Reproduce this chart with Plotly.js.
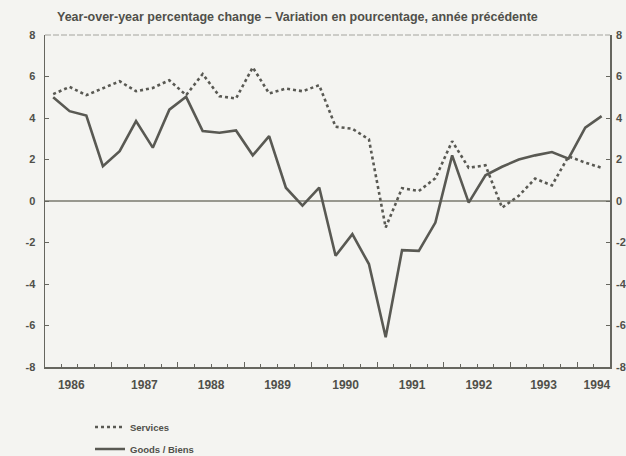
<!DOCTYPE html>
<html>
<head>
<meta charset="utf-8">
<script src="https://cdn.plot.ly/plotly-3.0.1.min.js"></script>
<style>
html,body{margin:0;padding:0;background:#f4f4f1;}
#chart{width:626px;height:456px;}
</style>
</head>
<body>
<div id="chart"></div>
<script>
// Quarterly observations, 1986 Q1 – 1994 Q2
const quarters = [
  "1986 Q1","1986 Q2","1986 Q3","1986 Q4",
  "1987 Q1","1987 Q2","1987 Q3","1987 Q4",
  "1988 Q1","1988 Q2","1988 Q3","1988 Q4",
  "1989 Q1","1989 Q2","1989 Q3","1989 Q4",
  "1990 Q1","1990 Q2","1990 Q3","1990 Q4",
  "1991 Q1","1991 Q2","1991 Q3","1991 Q4",
  "1992 Q1","1992 Q2","1992 Q3","1992 Q4",
  "1993 Q1","1993 Q2","1993 Q3","1993 Q4",
  "1994 Q1","1994 Q2"
];
const services = [
  5.15, 5.5, 5.1, 5.45, 5.77, 5.29, 5.45, 5.82, 5.1, 6.12,
  5.05, 4.94, 6.44, 5.18, 5.42, 5.29, 5.58, 3.58, 3.48, 2.97,
  -1.28, 0.62, 0.48, 1.1, 2.88, 1.6, 1.72, -0.32, 0.25, 1.08,
  0.75, 2.15, 1.85, 1.6
];
const goods = [
  5.0, 4.33, 4.12, 1.68, 2.4, 3.85, 2.57, 4.4, 5.02, 3.37,
  3.29, 3.4, 2.2, 3.13, 0.64, -0.22, 0.65, -2.64, -1.6, -3.04,
  -6.57, -2.37, -2.4, -1.04, 2.2, -0.08, 1.24, 1.65, 2.0, 2.2,
  2.36, 2.04, 3.53, 4.09
];
const yearLabels = ["1986","1987","1988","1989","1990","1991","1992","1993","1994"];
const yTickValues = [-8, -6, -4, -2, 0, 2, 4, 6, 8];
const yTickLabels = ["-8", "-6", "-4", "-2", "0", "2", "4", "6", "8"];
const seriesNames = ["Services", "Goods / Biens"];
const titleText = "Year-over-year percentage change \u2013 Variation en pourcentage, ann\u00e9e pr\u00e9c\u00e9dente";

// quarter label -> mid-quarter date
const midMonth = {Q1: "02-15", Q2: "05-16", Q3: "08-16", Q4: "11-15"};
const xDates = quarters.map(q => { const p = q.split(" "); return p[0] + "-" + midMonth[p[1]]; });

const ink = "#50504a";
const lineCol = "#595953";
const axisCol = "#66665f";
const bg = "#f4f4f1";
const xRange = ["1986-01-01", "1994-07-01"];
const fontFam = '"Liberation Sans", Arial, Helvetica, sans-serif';

const traces = [
  {
    type: "scatter", mode: "lines", name: seriesNames[0],
    x: xDates, y: services, xaxis: "x2", yaxis: "y2",
    line: {color: lineCol, width: 2.6, dash: "3px,3px"},
    legend: "legend", hoverinfo: "skip"
  },
  {
    type: "scatter", mode: "lines", name: seriesNames[1],
    x: xDates, y: goods, xaxis: "x", yaxis: "y",
    line: {color: lineCol, width: 2.6},
    legend: "legend2", hoverinfo: "skip"
  }
];

const yCommon = {
  range: [-8, 8], fixedrange: true, automargin: false,
  tickmode: "array", tickvals: yTickValues, ticktext: yTickLabels,
  showgrid: false,
  ticks: "inside", ticklen: 4, tickcolor: axisCol,
  tickfont: {family: fontFam, size: 11, color: ink, weight: "bold"}
};

const layout = {
  width: 626, height: 456,
  paper_bgcolor: bg, plot_bgcolor: bg,
  margin: {l: 45, r: 16, t: 35, b: 89, pad: 0, autoexpand: false},
  font: {family: fontFam, size: 11, color: ink, weight: "bold"},
  title: {
    text: titleText, xref: "container", yref: "container",
    x: 57 / 626, xanchor: "left", y: 1 - 17 / 456, yanchor: "middle",
    font: {family: fontFam, size: 12.5, color: ink, weight: "bold"}
  },
  xaxis: {
    type: "date", range: xRange, fixedrange: true, automargin: false,
    showgrid: false, zeroline: false,
    showline: true, linecolor: axisCol, linewidth: 1.5,
    ticks: "inside", tick0: "1986-01-01", dtick: "M12", ticklen: 5, tickwidth: 1, tickcolor: axisCol,
    showticklabels: false,
    minor: {ticks: "inside", tick0: "1986-01-01", dtick: "M3", ticklen: 3, tickwidth: 1, tickcolor: axisCol, showgrid: false}
  },
  xaxis2: {
    type: "date", range: xRange, fixedrange: true, automargin: false,
    overlaying: "x", anchor: "y", side: "bottom",
    showgrid: false, zeroline: false, showline: false, ticks: "",
    tickmode: "array",
    tickvals: ["1986-05-25", "1987-07-01", "1988-07-01", "1989-07-01", "1990-07-10",
               "1991-07-10", "1992-07-10", "1993-07-01", "1994-04-20"],
    ticktext: yearLabels,
    ticklabelstandoff: 9,
    tickfont: {family: fontFam, size: 12, color: ink, weight: "bold"}
  },
  yaxis: Object.assign({}, yCommon, {
    zeroline: true, zerolinecolor: "#98988f", zerolinewidth: 1.3,
    showline: true, mirror: true, linecolor: axisCol, linewidth: 1.5,
    ticklabelstandoff: 6
  }),
  yaxis2: Object.assign({}, yCommon, {
    overlaying: "y", anchor: "x", side: "right",
    zeroline: false, showline: false,
    ticklabelstandoff: 5
  }),
  showlegend: true,
  legend: {
    xref: "container", yref: "container", x: 90 / 626, y: 1 - 427 / 456,
    xanchor: "left", yanchor: "middle", bgcolor: "rgba(0,0,0,0)", borderwidth: 0,
    font: {family: fontFam, size: 9.5, color: ink, weight: "bold"}
  },
  legend2: {
    xref: "container", yref: "container", x: 90 / 626, y: 1 - 449 / 456,
    xanchor: "left", yanchor: "middle", bgcolor: "rgba(0,0,0,0)", borderwidth: 0,
    font: {family: fontFam, size: 9.5, color: ink, weight: "bold"}
  },
  shapes: [
    {type: "line", xref: "paper", yref: "paper", x0: 0, x1: 1, y0: 1, y1: 1,
     line: {color: "#a4a49e", width: 1, dash: "6px,2px"}, layer: "above"}
  ]
};

Plotly.newPlot("chart", traces, layout, {staticPlot: true, displayModeBar: false});
</script>
</body>
</html>
